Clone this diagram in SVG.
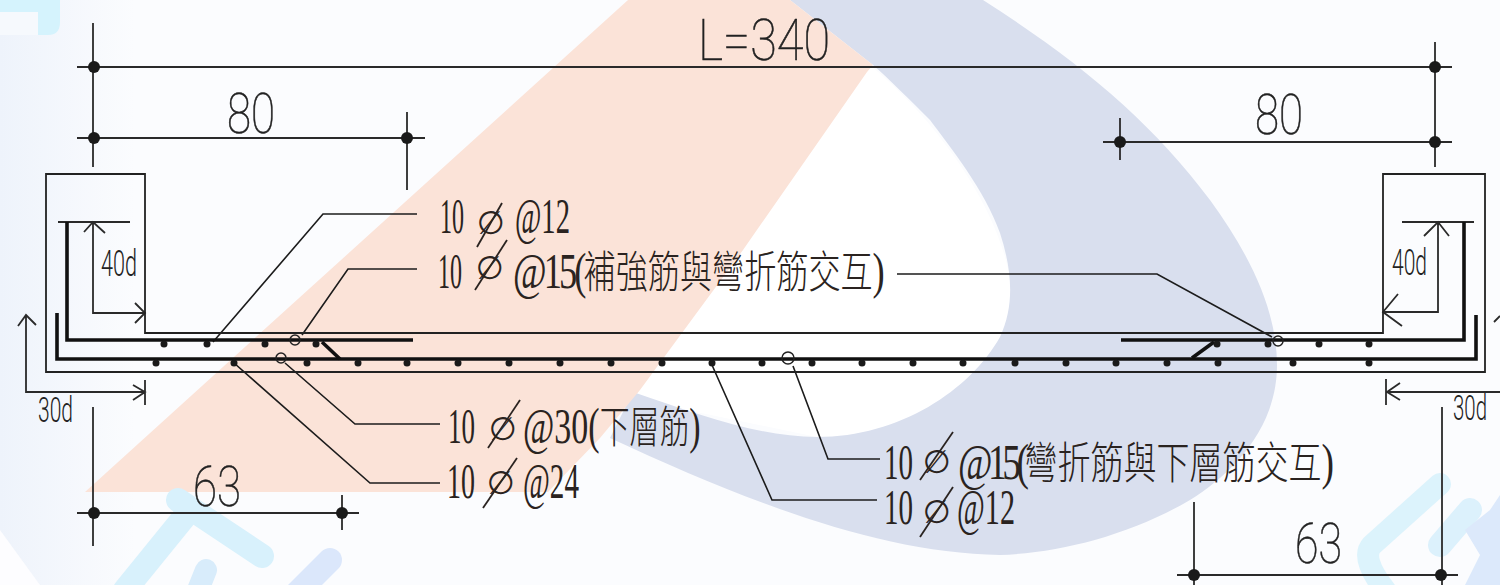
<svg xmlns="http://www.w3.org/2000/svg" width="1500" height="585" viewBox="0 0 1500 585">
<defs>
<linearGradient id="bg" x1="0" y1="0" x2="1" y2="0"><stop offset="0" stop-color="#eef3fb"/><stop offset="0.09" stop-color="#fbfcfe"/><stop offset="1" stop-color="#fbfcfe"/></linearGradient>
<style>
.ln{fill:none;stroke:#222;stroke-width:1.8;stroke-linejoin:miter}
.ld{fill:none;stroke:#1c1c1c;stroke-width:1.6}
.bar{fill:none;stroke:#111;stroke-width:3.6}
.dim{fill:none;stroke:#2a2a2a;stroke-width:1.8}
.dot{fill:#1a1a1a}
.d2{fill:#1a1a1a}
.rc{fill:none;stroke:#222;stroke-width:1.5}
.s{font-family:"Roboto","Liberation Sans",sans-serif;font-weight:100;fill:#222;stroke:#222;stroke-width:.6}
.s2{font-weight:300;stroke:none}
.t{font-family:"Liberation Serif",serif;font-size:50px;fill:#2a2320}
.p{font-family:"DejaVu Sans",sans-serif;font-size:32px;fill:#2a2320;text-anchor:middle}
.sl{fill:none;stroke:#2a2320;stroke-width:1.8}
.c{font-family:"Noto Sans CJK TC",sans-serif;font-size:44px;font-weight:300}
</style>
</defs>
<g id="background">
<rect width="1500" height="585" fill="url(#bg)"/>
<path d="M0 530L40 585H0Z" fill="#fdfdff"/>
<path d="M870 65C960 140 1020 250 1010 310C990 400 900 440 817 437L600 392L720 250Z" fill="#fff"/>
<path d="M790 0L983 0C1080 62 1150 120 1210 200C1250 255 1277 310 1277 365C1277 430 1230 475 1190 500C1130 535 1060 553 1000 555C880 553 750 503 610 438L633 392C700 415 760 437 817 437C900 437 970 390 1000 337C1015 305 1012 270 1000 233C985 190 950 147 930 120C910 100 890 80 873 65Z" fill="#d9dfee"/>
<path d="M628 0L790 0L873 65L867 72L743 250L640 390L600 438L548 492L85 492Z" fill="#fbe3d8"/>
<path d="M0 0H60V22Q60 35 48 35H38V12H0Z" fill="#d5f3fd"/>
<path d="M0 12H38V35H0Z" fill="#f6f9fd"/>
<g fill="none" stroke-linecap="round">
<path d="M178 500L262 556" stroke="#d8f1fc" stroke-width="24"/>
<path d="M190 510L125 590" stroke="#d8f1fc" stroke-width="24"/>
<path d="M206 570L198 590" stroke="#d8ecfb" stroke-width="22"/>
<path d="M330 560L295 595" stroke="#dbe7fb" stroke-width="24"/>
<path d="M1440 484L1372 545Q1360 558 1385 590" stroke="#dcf3fc" stroke-width="22"/>
<path d="M1470 510L1440 545" stroke="#dcf1fc" stroke-width="24"/>
</g>
<path d="M1490 510L1500 495V585H1465L1480 555L1465 530Z" fill="#dce9fb"/>
</g>
<g id="connectors">
<g id="dimension-lines" class="dim">
<path d="M93 23V167M93 407V546M77 67H1452M77 138H425M407 112V190M77 513H359M342 495V530"/>
<path d="M1435 42V167M1103 142H1452M1120 118V160M1177 575H1458M1194 502V585M1442 407V585"/>
<path d="M58 222H130M1402 222H1474"/>
</g>
<g id="dim-arrows" class="dim">
<path d="M93 222V313H145M84 232L93 222L105 233M135 303L145 313L135 323"/>
<path d="M1438 222V312H1383M1424 236L1438 222L1449 236M1398 294L1383 312L1402 326"/>
<path d="M26 315V392H145M18 326L26 315L36 325M133 385L145 392L133 400M145 380V405"/>
<path d="M1500 392H1387M1400 383L1387 392L1400 400M1386 379V405M1494 322L1500 316"/>
</g>
<g id="leaders" class="ld">
<path d="M417 214H323L213 342"/>
<path d="M417 269H348L302 335"/>
<path d="M285 363L355 424H440"/>
<path d="M234 363L370 483H440"/>
<path d="M897 274H1157L1272 337"/>
<path d="M712 365L772 500H877"/>
<path d="M793 366L828 459H880"/>
</g>
</g>
<g id="beam"><path class="ln" d="M46 174H145V333H1383V174H1485V372H46Z"/></g>
<g id="rebars" class="bar">
<path d="M67 222V340H413"/>
<path d="M1121 340H1464V222"/>
<path d="M57 313V359H1476V315"/>
<path d="M322 342L340 359M1192 358L1214 342"/>
</g>
<g id="rebar-dots" class="dot">
<circle cx="164" cy="344" r="3.5"/><circle cx="207" cy="344" r="3.5"/><circle cx="265" cy="344" r="3.5"/><circle cx="316" cy="344" r="3.5"/>
<circle cx="1217" cy="344" r="3.5"/><circle cx="1268" cy="344" r="3.5"/><circle cx="1319" cy="344" r="3.5"/><circle cx="1369" cy="344" r="3.5"/>
<circle cx="156" cy="363" r="3.5"/><circle cx="234" cy="363" r="3.5"/><circle cx="307" cy="363" r="3.5"/><circle cx="358" cy="363" r="3.5"/><circle cx="407" cy="363" r="3.5"/><circle cx="458" cy="363" r="3.5"/><circle cx="509" cy="363" r="3.5"/><circle cx="560" cy="363" r="3.5"/><circle cx="611" cy="363" r="3.5"/><circle cx="662" cy="363" r="3.5"/><circle cx="712" cy="363" r="3.5"/><circle cx="762" cy="363" r="3.5"/><circle cx="812" cy="363" r="3.5"/><circle cx="862" cy="363" r="3.5"/><circle cx="913" cy="363" r="3.5"/><circle cx="963" cy="363" r="3.5"/><circle cx="1015" cy="363" r="3.5"/><circle cx="1066" cy="363" r="3.5"/><circle cx="1116" cy="363" r="3.5"/><circle cx="1167" cy="363" r="3.5"/><circle cx="1218" cy="363" r="3.5"/><circle cx="1293" cy="363" r="3.5"/><circle cx="1369" cy="363" r="3.5"/>
</g>
<g id="rebar-rings" class="rc">
<circle cx="295" cy="340" r="5"/><circle cx="281" cy="358" r="5"/><circle cx="788" cy="358" r="6"/><circle cx="1278" cy="341" r="5"/>
</g>
<g id="dim-dots" class="d2">
<circle cx="94" cy="67" r="6"/><circle cx="1435" cy="67" r="6"/><circle cx="94" cy="138" r="6"/><circle cx="407" cy="138" r="6"/><circle cx="1120" cy="142" r="6"/><circle cx="1435" cy="142" r="6"/><circle cx="94" cy="513" r="6"/><circle cx="342" cy="513" r="6"/><circle cx="1194" cy="575" r="6"/><circle cx="1441" cy="575" r="6"/>
</g>
<g id="dim-labels" class="s">
<text x="698" y="60" font-size="58" textLength="132" lengthAdjust="spacingAndGlyphs">L=340</text>
<text x="227" y="133" font-size="56" textLength="48" lengthAdjust="spacingAndGlyphs">80</text>
<text x="1255" y="134" font-size="56" textLength="48" lengthAdjust="spacingAndGlyphs">80</text>
<text x="193" y="506" font-size="56" textLength="48" lengthAdjust="spacingAndGlyphs">63</text>
<text x="1295" y="563" font-size="56" textLength="47" lengthAdjust="spacingAndGlyphs">63</text>
<text class="s2" x="101" y="276" font-size="37" textLength="36" lengthAdjust="spacingAndGlyphs">40d</text>
<text class="s2" x="1392" y="275" font-size="37" textLength="35" lengthAdjust="spacingAndGlyphs">40d</text>
<text class="s2" x="38" y="422" font-size="35" textLength="35" lengthAdjust="spacingAndGlyphs">30d</text>
<text class="s2" x="1453" y="420" font-size="35" textLength="34" lengthAdjust="spacingAndGlyphs">30d</text>
</g>
<g id="label-top-12">
<text class="t" x="440" y="233" textLength="24" lengthAdjust="spacingAndGlyphs">10</text>
<text class="p" x="491" y="234">∅</text><path class="sl" d="M477 247L502 203"/>
<text class="t" x="515" y="233" textLength="55" lengthAdjust="spacingAndGlyphs">@12</text>
</g>
<g id="label-top-15">
<text class="t" x="438" y="288" textLength="24" lengthAdjust="spacingAndGlyphs">10</text>
<text class="p" x="490" y="279">∅</text><path class="sl" d="M475 290L507 240"/>
<text class="t" transform="translate(513 288) scale(.73 1)"><tspan letter-spacing="-4">@15(</tspan><tspan class="c">補強筋與彎折筋交互</tspan><tspan>)</tspan></text>
</g>
<g id="label-bottom-30">
<text class="t" x="448" y="443" textLength="27" lengthAdjust="spacingAndGlyphs">10</text>
<text class="p" x="503" y="440">∅</text><path class="sl" d="M488 448L520 400"/>
<text class="t" transform="translate(523 443) scale(.68 1)">@30(<tspan class="c">下層筋</tspan>)</text>
</g>
<g id="label-bottom-24">
<text class="t" x="447" y="498" textLength="28" lengthAdjust="spacingAndGlyphs">10</text>
<text class="p" x="501" y="494">∅</text><path class="sl" d="M483 508L517 458"/>
<text class="t" x="523" y="498" textLength="56" lengthAdjust="spacingAndGlyphs">@24</text>
</g>
<g id="label-mid-15">
<text class="t" x="884" y="479" textLength="29" lengthAdjust="spacingAndGlyphs">10</text>
<text class="p" x="937" y="473">∅</text><path class="sl" d="M920 480L953 432"/>
<text class="t" transform="translate(958 479) scale(.75 1)"><tspan letter-spacing="-6">@15(</tspan><tspan class="c">彎折筋與下層筋交互</tspan><tspan>)</tspan></text>
</g>
<g id="label-mid-12">
<text class="t" x="884" y="524" textLength="29" lengthAdjust="spacingAndGlyphs">10</text>
<text class="p" x="937" y="523">∅</text><path class="sl" d="M920 537L953 487"/>
<text class="t" x="957" y="524" textLength="58" lengthAdjust="spacingAndGlyphs">@12</text>
</g>
</svg>
